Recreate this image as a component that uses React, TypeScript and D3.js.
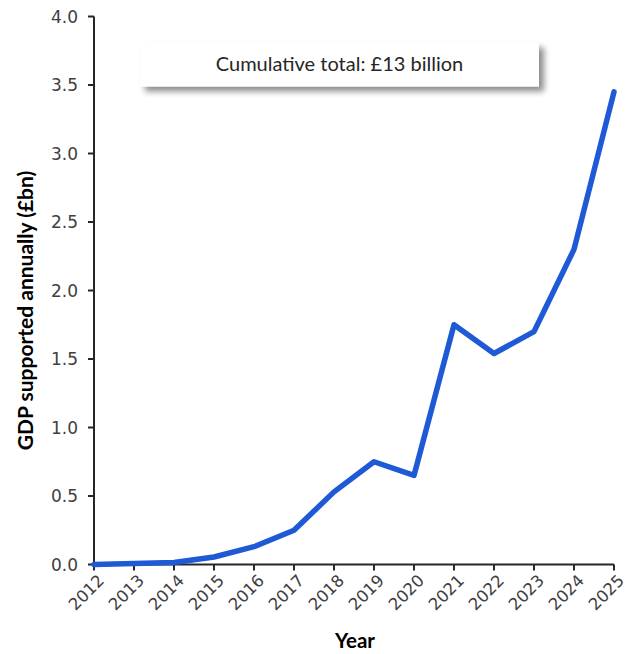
import React from "react";
import * as d3 from "d3";

const years = ["2012","2013","2014","2015","2016","2017","2018","2019","2020","2021","2022","2023","2024","2025"];
const gdpSupported = [0, 0.008, 0.015, 0.055, 0.13, 0.25, 0.53, 0.75, 0.65, 1.75, 1.54, 1.7, 2.3, 3.45];
const yTicks = [0, 0.5, 1.0, 1.5, 2.0, 2.5, 3.0, 3.5, 4.0];
const annotation = "Cumulative total: £13 billion";
const yTitle = "GDP supported annually (£bn)";
const xTitle = "Year";

const W = 629, H = 654;
const left = 94, right = 614, top = 16.5, bottom = 564.5;

export default function App() {
  const x = d3.scalePoint<string>().domain(years).range([left, right]);
  const y = d3.scaleLinear().domain([0, 4]).range([bottom, top]);
  const line = d3.line<number>()
    .x((_, i) => x(years[i]) as number)
    .y((d) => y(d));
  const tickFont = "'DejaVu Sans', Verdana, sans-serif";
  const calibri = "Lato, 'Open Sans', sans-serif";
  return (
    <svg width={W} height={H} style={{ position: "absolute", left: 0, top: 0, background: "#fff" }}>
      <defs>
        <filter id="sh" x="-10%" y="-50%" width="130%" height="220%">
          <feGaussianBlur in="SourceAlpha" stdDeviation="3" />
          <feOffset dx="5" dy="5" result="b" />
          <feComponentTransfer><feFuncA type="linear" slope="0.45" /></feComponentTransfer>
          <feMerge><feMergeNode /><feMergeNode in="SourceGraphic" /></feMerge>
        </filter>
      </defs>
      {/* annotation box */}
      <rect x={140} y={42.5} width={399} height={44} fill="#fff" filter="url(#sh)" />
      <text x={339.5} y={71} textAnchor="middle" fontFamily={calibri} fontSize={20} fill="#262626">{annotation}</text>

      {/* y axis */}
      <line x1={left} x2={left} y1={top} y2={bottom} stroke="#262626" strokeWidth={2} />
      {yTicks.map((t) => (
        <g key={t}>
          <line x1={left - 6} x2={left} y1={y(t)} y2={y(t)} stroke="#262626" strokeWidth={2} />
          <text x={left - 16} y={y(t)} dy="0.36em" textAnchor="end" fontFamily={tickFont} fontSize={17} fill="#404040">{t.toFixed(1)}</text>
        </g>
      ))}
      <text transform={`translate(33,${(top + bottom) / 2 + 20}) rotate(-90)`} textAnchor="middle" fontFamily={calibri} fontWeight="bold" fontSize={21} fill="#000">{yTitle}</text>

      {/* x axis */}
      <line x1={left} x2={right} y1={bottom} y2={bottom} stroke="#262626" strokeWidth={2} />
      {years.map((yr) => (
        <g key={yr}>
          <line x1={x(yr)} x2={x(yr)} y1={bottom} y2={bottom + 6} stroke="#262626" strokeWidth={2} />
          <text transform={`translate(${(x(yr) as number) + 3},${bottom + 9}) rotate(-45)`} textAnchor="end" dy="0.7em" fontFamily={tickFont} fontSize={16.5} fill="#404040">{yr}</text>
        </g>
      ))}
      <text x={355} y={648} textAnchor="middle" fontFamily={calibri} fontWeight="bold" fontSize={20.5} fill="#000">{xTitle}</text>

      {/* series */}
      <path d={line(gdpSupported) || ""} fill="none" stroke="#1f5ad6" strokeWidth={5.5} strokeLinejoin="round" strokeLinecap="round" />
    </svg>
  );
}
